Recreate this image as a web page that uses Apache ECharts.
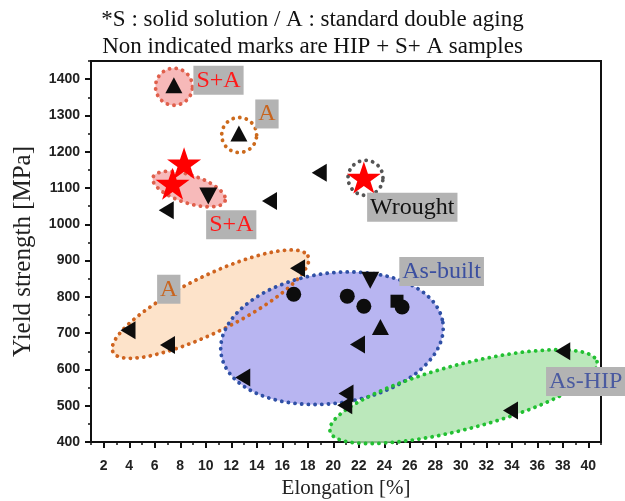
<!DOCTYPE html>
<html>
<head>
<meta charset="utf-8">
<script src="https://cdn.jsdelivr.net/npm/echarts@6/dist/echarts.min.js"></script>
<style>
html,body{margin:0;padding:0;background:#fff;}
#chart{width:625px;height:501px;}
</style>
</head>
<body>
<div id="chart"></div>
<script>
// ---- tick labels ----
const xTickLabels = [2,4,6,8,10,12,14,16,18,20,22,24,26,28,30,32,34,36,38,40];
const xMinorTicks = [1,3,5,7,9,11,13,15,17,19,21,23,25,27,29,31,33,35,37,39,41];
const yTickLabels = [400,500,600,700,800,900,1000,1100,1200,1300,1400];
const yMinorTicks = [450,550,650,750,850,950,1050,1150,1250,1350,1450];

// ---- data: [elongation %, yield strength MPa] ----
const triLeft = [[6.9,1039],[15.0,1064],[18.9,1142],[17.2,879],[3.9,708],[7.0,667],[21.9,669],[12.9,578],[38.0,650],[33.9,487],[21.0,534],[20.9,501]];
const triUp = [[7.5,1383],[12.6,1250],[23.7,717]];
const triDown = [[10.2,1078],[22.9,846]];
const circles = [[16.9,807],[21.1,802],[22.4,774],[25.4,772]];
const squares = [[25.0,788]];
const redStars = [[8.3,1168],[7.4,1112],[22.4,1129]];

// ---- annotation regions (ellipses in data units: centre + two semi-axis vectors) ----
const regionNames   = ['A (left)','As-built','As-HIP','S+A (top)','A (top)','S+A (low)','Wrought'];
const regionCenters = [[10.37,780],[19.90,686],[30.22,525],[7.51,1379],[12.62,1246],[8.69,1097],[22.53,1128]];
const regionAxisA   = [[7.65,132.3],[8.70,43.0],[10.47,96.5],[1.45,0],[1.37,0],[2.83,-32.3],[1.37,0]];
const regionAxisB   = [[0.97,-69.2],[0.71,-177.6],[0.66,-86],[0,51],[0,48.3],[-0.34,-36.7],[0,48.3]];

// ---- annotation labels ----
const labelTexts = ['S+A','A','S+A','Wrought','A','As-built','As-HIP'];
const labelAt    = [[11.0,1397],[14.8,1304],[12.0,999],[26.2,1047],[7.1,821],[28.5,870],[39.8,567]];

// ---- styles ----
const regionFill   = ['rgba(253,224,196,0.9)','rgba(172,168,238,0.85)','rgba(170,226,170,0.8)','#f7b9b9','rgba(255,255,255,0)','rgba(246,178,178,0.9)','rgba(255,255,255,0)'];
const regionStroke = ['#cf6420','#2f50a6','#22c032','#e0604c','#cc6a1c','#e0604c','#555555'];
const labelColors  = ['#ff1a1a','#c8641e','#ff1a1a','#111111','#c8641e','#3b4fa0','#4a5aa0'];

const starPath = 'path://M50,0 L61.8,35.1 L98.9,35.1 L68.9,56.8 L80.3,91.9 L50,70.2 L19.7,91.9 L31.1,56.8 L1.1,35.1 L38.2,35.1 Z';
const SERIF = '"Liberation Serif","Times New Roman",serif';
const SANS = '"Liberation Sans",Arial,sans-serif';

const regionData = regionCenters.map((c, i) => [c[0], c[1], regionAxisA[i][0], regionAxisA[i][1], regionAxisB[i][0], regionAxisB[i][1]]);

function ellipsePoints(api) {
  const cx = api.value(0), cy = api.value(1);
  const ax = api.value(2), ay = api.value(3), bx = api.value(4), by = api.value(5);
  const pts = [];
  const N = 90;
  for (let k = 0; k < N; k++) {
    const t = 2 * Math.PI * k / N;
    pts.push(api.coord([cx + ax * Math.cos(t) + bx * Math.sin(t), cy + ay * Math.cos(t) + by * Math.sin(t)]));
  }
  return pts;
}

const chart = echarts.init(document.getElementById('chart'), null, {renderer: 'canvas'});
const markerStyle = {color: '#0d0d0d', opacity: 1};
const titleStyle = {fontFamily: SERIF, fontSize: 23, fontWeight: 'normal', color: '#111'};

chart.setOption({
  animation: false,
  backgroundColor: '#fff',
  title: [
    {text: '*S : solid solution / A : standard double aging', left: 'center', top: 3, textStyle: titleStyle},
    {text: 'Non indicated marks are HIP + S+ A samples', left: 'center', top: 30, textStyle: titleStyle}
  ],
  grid: {left: 91, right: 24, top: 61, bottom: 59, show: true, borderColor: '#111', borderWidth: 2, outerBoundsMode: 'none'},
  xAxis: [{
    type: 'value', min: 1, max: 41, interval: 1,
    name: 'Elongation [%]', nameLocation: 'middle', nameGap: 35,
    nameTextStyle: {fontFamily: SERIF, fontSize: 21, color: '#222'},
    axisLine: {lineStyle: {color: '#111', width: 2}},
    axisTick: {show: true, inside: false, length: 6, customValues: xTickLabels, lineStyle: {color: '#111', width: 2}},
    axisLabel: {customValues: xTickLabels, formatter: v => String(v), fontFamily: SANS, fontWeight: 'bold', fontSize: 14, color: '#222', margin: 17},
    splitLine: {show: false}
  }, {
    type: 'value', min: 1, max: 41, interval: 1, position: 'bottom',
    axisLine: {show: false},
    axisTick: {show: true, inside: false, length: 3, customValues: xMinorTicks, lineStyle: {color: '#111', width: 1.5}},
    axisLabel: {show: false},
    splitLine: {show: false}
  }],
  yAxis: [{
    type: 'value', min: 400, max: 1450, interval: 50,
    name: 'Yield strength [MPa]', nameLocation: 'middle', nameGap: 55,
    nameTextStyle: {fontFamily: SERIF, fontSize: 25, color: '#222'},
    axisLine: {lineStyle: {color: '#111', width: 2}},
    axisTick: {show: true, inside: false, length: 6, customValues: yTickLabels, lineStyle: {color: '#111', width: 2}},
    axisLabel: {customValues: yTickLabels, formatter: v => String(v), fontFamily: SANS, fontWeight: 'bold', fontSize: 14, color: '#222', margin: 11},
    splitLine: {show: false}
  }, {
    type: 'value', min: 400, max: 1450, interval: 50, position: 'left',
    axisLine: {show: false},
    axisTick: {show: true, inside: false, length: 3, customValues: yMinorTicks, lineStyle: {color: '#111', width: 1.5}},
    axisLabel: {show: false},
    splitLine: {show: false}
  }],
  series: [
    {
      type: 'custom', name: 'region fill', z: 1, silent: true,
      encode: {x: 0, y: 1},
      data: regionData,
      renderItem: (params, api) => ({
        type: 'polygon',
        shape: {points: ellipsePoints(api)},
        style: {fill: regionFill[params.dataIndex], stroke: null}
      })
    },
    {
      type: 'custom', name: 'region border', z: 2, silent: true,
      encode: {x: 0, y: 1},
      data: regionData,
      renderItem: (params, api) => ({
        type: 'polygon',
        shape: {points: ellipsePoints(api)},
        style: {fill: 'none', stroke: regionStroke[params.dataIndex], lineWidth: 3.8, lineDash: [0.1, 6.6], lineCap: 'round'}
      })
    },
    {type: 'scatter', name: 'triLeft', z: 5, data: triLeft, symbol: 'triangle', symbolRotate: 90, symbolSize: [18, 15], itemStyle: markerStyle},
    {type: 'scatter', name: 'triUp', z: 5, data: triUp, symbol: 'triangle', symbolSize: [17, 16], itemStyle: markerStyle},
    {type: 'scatter', name: 'triDown', z: 5, data: triDown, symbol: 'triangle', symbolRotate: 180, symbolSize: [18, 17], itemStyle: markerStyle},
    {type: 'scatter', name: 'squares', z: 5, data: squares, symbol: 'rect', symbolSize: 13, itemStyle: markerStyle},
    {type: 'scatter', name: 'circles', z: 5, data: circles, symbol: 'circle', symbolSize: 15, itemStyle: markerStyle},
    {type: 'scatter', name: 'stars', z: 6, data: redStars, symbol: starPath, symbolSize: [34, 32], itemStyle: {color: '#ff0000', opacity: 1}},
    {
      type: 'custom', name: 'labels', z: 8, silent: true,
      encode: {x: 0, y: 1},
      data: labelAt,
      renderItem: (params, api) => {
        const p = api.coord([api.value(0), api.value(1)]);
        const i = params.dataIndex;
        return {
          type: 'text', x: p[0], y: p[1],
          style: {
            text: labelTexts[i], fill: labelColors[i],
            font: '24px ' + SERIF, lineHeight: 26,
            align: 'center', verticalAlign: 'middle',
            backgroundColor: '#b3b3b3', padding: [2, 3, 1, 3]
          }
        };
      }
    }
  ]
});
</script>
</body>
</html>
